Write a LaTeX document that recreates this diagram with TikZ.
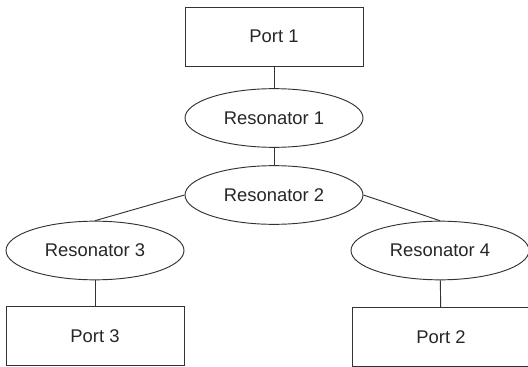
\documentclass[tikz,border=0pt]{standalone}
\usepackage{fontspec}
\setmainfont{Liberation Sans}
\usetikzlibrary{shapes.geometric, positioning}

\begin{document}
\begin{tikzpicture}[x=0.03cm, y=-0.03cm,
		every node/.style={font=\fontsize{15.7}{19}\selectfont, text=black!85},
		port/.style={draw=black!80, line width=0.8pt, rectangle, minimum width=5.34cm, minimum height=1.77cm, inner sep=0pt},
		reso/.style={draw=black!80, line width=0.8pt, ellipse, minimum width=5.34cm, minimum height=1.76cm, inner sep=0pt},
		link/.style={draw=black!80, line width=0.8pt}]
	\useasboundingbox (0, 0) rectangle (528, 367);
	% ports and resonators
	\node[port] (p1) at (274, 36.5) {Port 1};
	\node[reso] (r1) at (274, 118) {Resonator 1};
	\node[reso] (r2) at (274, 195) {Resonator 2};
	\node[reso] (r3) at (95, 250.5) {Resonator 3};
	\node[reso] (r4) at (440, 250.5) {Resonator 4};
	\node[port] (p3) at (95, 336) {Port 3};
	\node[port] (p2) at (441, 337) {Port 2};
	% couplings
	\draw[link] (p1) -- (r1);
	\draw[link] (r1) -- (r2);
	\draw[link] (r2.west) -- (r3.north);
	\draw[link] (r2.east) -- (r4.north);
	\draw[link] (r3) -- (p3);
	\draw[link] (r4) -- (p2);
\end{tikzpicture}
\end{document}
